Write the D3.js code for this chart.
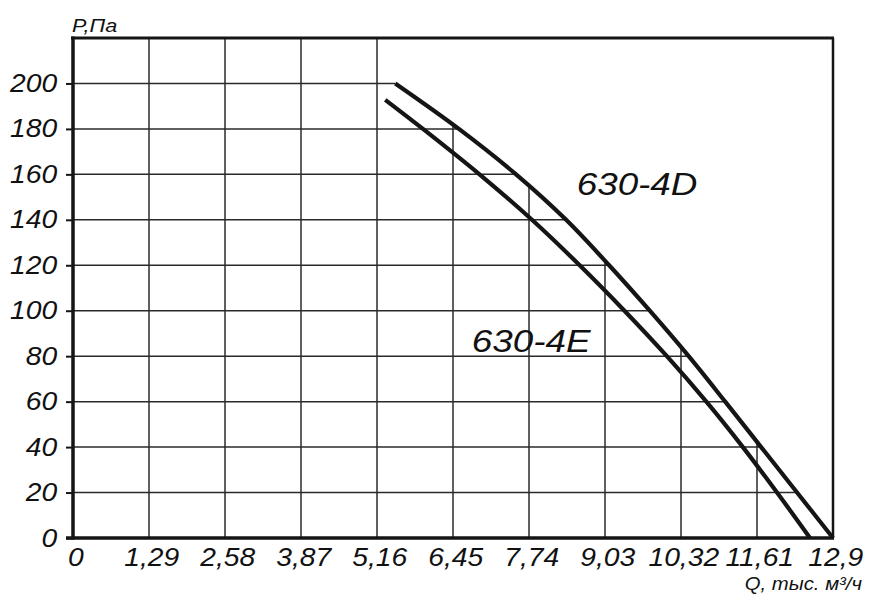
<!DOCTYPE html>
<html>
<head>
<meta charset="utf-8">
<script src="https://cdn.jsdelivr.net/npm/d3@7/dist/d3.min.js"></script>
<style>
  html, body { margin: 0; padding: 0; background: #fff; }
  svg { display: block; }
  text { font-family: "Liberation Sans", Arial, sans-serif; font-style: italic; fill: #111; }
</style>
</head>
<body>
<svg id="chart" width="879" height="600"></svg>
<script>
// ---- data ----
const qTicks = [0, 1.29, 2.58, 3.87, 5.16, 6.45, 7.74, 9.03, 10.32, 11.61, 12.9];
const qTickLabels = ["0", "1,29", "2,58", "3,87", "5,16", "6,45", "7,74", "9,03", "10,32", "11,61", "12,9"];
const pTicks = [0, 20, 40, 60, 80, 100, 120, 140, 160, 180, 200];
const pGrid = [20, 40, 60, 80, 100, 120, 140, 160, 180, 200, 220];

const q4D = [5.47, 6.55, 7.52, 8.37, 9.10, 9.79, 10.45, 11.07, 11.68, 12.29, 12.9];
const p4D = [200, 180, 160, 140, 120, 100, 80, 60, 40, 20, 0];
const q4E = [5.30, 5.94, 6.90, 7.79, 8.60, 9.36, 10.08, 10.75, 11.37, 11.95, 12.51];
const p4E = [192.8, 180, 160, 140, 120, 100, 80, 60, 40, 20, 0];

const seriesNames = ["630-4D", "630-4E"];
const labelPos = [[8.55, 151], [6.77, 81.8]]; // label anchor in data units (Q, P)

// ---- layout ----
const svg = d3.select("#chart");
const x = d3.scaleLinear().domain([0, 12.9]).range([73, 833]);
const y = d3.scaleLinear().domain([0, 220]).range([538, 38]);
const ink = "#151515";
const FONT = "'Liberation Sans', Arial, sans-serif";

const d4D = q4D.map((q, i) => [q, p4D[i]]);
const d4E = q4E.map((q, i) => [q, p4E[i]]);

const line = d3.line().x(d => x(d[0])).y(d => y(d[1])).curve(d3.curveCatmullRom.alpha(0.5));

// clip region for grid: left rectangle up to curve start, plus area under 4D curve
const curvePath = line(d4D);
const clipD = "M" + x(0) + "," + y(220) + "L" + x(q4D[0]) + "," + y(220) +
  "L" + curvePath.slice(1) + "L" + x(0) + "," + y(0) + "Z";
svg.append("defs").append("clipPath").attr("id", "gridclip")
  .append("path").attr("d", clipD);

const grid = svg.append("g").attr("clip-path", "url(#gridclip)");
grid.selectAll("line.v").data(qTicks.slice(1, -1)).join("line")
  .attr("x1", d => x(d)).attr("x2", d => x(d))
  .attr("y1", y(220)).attr("y2", y(0))
  .attr("stroke", "#2a2a2a").attr("stroke-width", 1.5);
grid.selectAll("line.h").data(pGrid.slice(0, -1)).join("line")
  .attr("x1", x(0)).attr("x2", x(12.9))
  .attr("y1", d => y(d)).attr("y2", d => y(d))
  .attr("stroke", "#2a2a2a").attr("stroke-width", 1.5);

// frame: top and right borders
svg.append("line").attr("x1", x(0) - 2).attr("x2", x(12.9) + 1)
  .attr("y1", y(220)).attr("y2", y(220)).attr("stroke", ink).attr("stroke-width", 3);
svg.append("line").attr("x1", x(12.9)).attr("x2", x(12.9))
  .attr("y1", y(220)).attr("y2", y(0)).attr("stroke", ink).attr("stroke-width", 2.5);

// y axis
const yAxis = svg.append("g").attr("transform", `translate(${x(0)},0)`)
  .call(d3.axisLeft(y).tickValues(pTicks).tickSize(7).tickPadding(7).tickFormat(d => String(d)));
yAxis.select(".domain").remove();
yAxis.selectAll(".tick line").attr("stroke", ink).attr("stroke-width", 2);
yAxis.selectAll(".tick text").attr("font-size", 25).attr("fill", "#111")
  .attr("font-family", FONT).attr("font-style", "italic")
  .attr("x", -14).attr("transform", "scale(1.13,1)");
svg.append("line").attr("x1", x(0)).attr("x2", x(0))
  .attr("y1", y(220) - 1.5).attr("y2", y(0) + 1.5).attr("stroke", ink).attr("stroke-width", 3.5);

// x axis
const xAxis = svg.append("g").attr("transform", `translate(0,${y(0)})`)
  .call(d3.axisBottom(x).tickValues(qTicks).tickSize(0).tickPadding(10)
    .tickFormat((d, i) => qTickLabels[i]));
xAxis.select(".domain").remove();
xAxis.selectAll(".tick text").attr("font-size", 25).attr("fill", "#111")
  .attr("font-family", FONT).attr("font-style", "italic")
  .attr("x", 2).attr("transform", "scale(1.13,1)");
svg.append("line").attr("x1", x(0) - 7).attr("x2", x(12.9) + 1)
  .attr("y1", y(0)).attr("y2", y(0)).attr("stroke", ink).attr("stroke-width", 3.5);

// curves
[d4D, d4E].forEach(d => {
  svg.append("path").attr("d", line(d)).attr("fill", "none")
    .attr("stroke", ink).attr("stroke-width", 4.2).attr("stroke-linecap", "butt");
});

// series labels
seriesNames.forEach((name, i) => {
  svg.append("text")
    .attr("transform", `translate(${x(labelPos[i][0])},${y(labelPos[i][1])}) scale(1.15,1)`)
    .attr("font-size", 32).text(name);
});

// axis titles
svg.append("text").attr("transform", "translate(72,32) scale(1.2,1)")
  .attr("font-size", 18).text("P,Па");
svg.append("text").attr("transform", "translate(862,590) scale(1.13,1)")
  .attr("text-anchor", "end").attr("font-size", 18).text("Q, тыс. м³/ч");
</script>
</body>
</html>
